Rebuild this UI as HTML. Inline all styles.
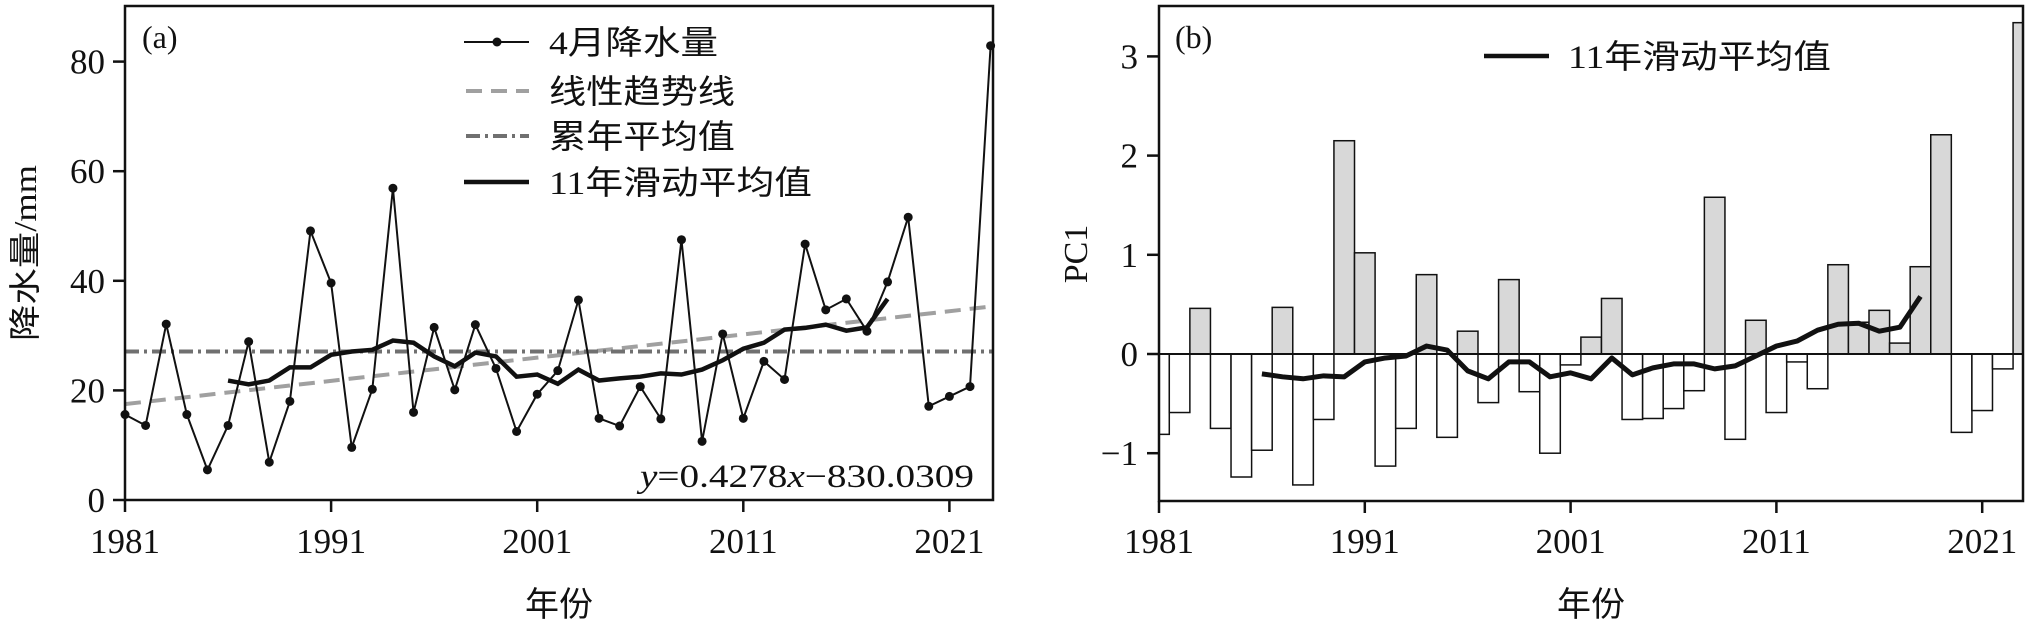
<!DOCTYPE html>
<html><head><meta charset="utf-8"><style>
html,body{margin:0;padding:0;background:#fff;}
svg{display:block;}
text{font-family:"Liberation Serif","Noto Serif CJK SC",serif;fill:#111;}
.cjk{font-family:"Liberation Serif","Noto Sans CJK SC",sans-serif;}
</style></head><body>
<svg id="s" width="2026" height="624" xmlns="http://www.w3.org/2000/svg"></svg>
<script>
const s=document.getElementById('s');let h='';
const ax=y=>125+(y-1981)*20.61, ay=v=>500-v*5.48;
const A=[15.6,13.6,32.1,15.6,5.5,13.6,28.9,6.9,18,49.1,39.6,9.6,20.2,56.9,16,31.5,20.1,32,24,12.5,19.3,23.6,36.5,14.9,13.5,20.7,14.8,47.5,10.7,30.3,14.9,25.3,22,46.7,34.7,36.7,30.8,39.8,51.6,17.1,18.9,20.7,82.9];
const MA=[21.8,21.1,21.8,24.2,24.2,26.5,27.1,27.4,29.1,28.7,26.2,24.4,26.9,26.2,22.5,22.9,21.2,23.8,21.8,22.2,22.5,23.1,22.9,23.8,25.5,27.6,28.7,31.1,31.4,32,30.9,31.5,36.7];
const MB=[-0.2,-0.23,-0.25,-0.22,-0.23,-0.08,-0.04,-0.02,0.08,0.04,-0.17,-0.25,-0.08,-0.08,-0.23,-0.19,-0.25,-0.04,-0.21,-0.14,-0.1,-0.1,-0.15,-0.12,-0.02,0.08,0.13,0.24,0.30,0.31,0.23,0.27,0.58];
const B=[-0.81,-0.59,0.46,-0.75,-1.24,-0.97,0.47,-1.32,-0.66,2.15,1.02,-1.13,-0.75,0.80,-0.84,0.23,-0.49,0.75,-0.38,-1.0,-0.11,0.17,0.56,-0.66,-0.65,-0.55,-0.37,1.58,-0.86,0.34,-0.59,-0.08,-0.35,0.90,0.32,0.44,0.11,0.88,2.21,-0.79,-0.57,-0.15,3.34];
h+=`<line x1="${ax(1981)}" y1="${ay(17.5)}" x2="${ax(2023)}" y2="${ay(35.3)}" stroke="#a0a0a0" stroke-width="4" stroke-dasharray="16,9"/>`;
h+=`<line x1="125" y1="${ay(27.1)}" x2="993" y2="${ay(27.1)}" stroke="#707070" stroke-width="4" stroke-dasharray="14,5,3,5"/>`;
h+=`<polyline fill="none" stroke="#111" stroke-width="2" points="${A.map((v,i)=>ax(1981+i)+','+ay(v)).join(' ')}"/>`;
A.forEach((v,i)=>h+=`<circle cx="${ax(1981+i)}" cy="${ay(v)}" r="4.5" fill="#111"/>`);
h+=`<polyline fill="none" stroke="#111" stroke-width="4.5" points="${MA.map((v,i)=>ax(1986+i)+','+ay(v)).join(' ')}"/>`;
h+=`<rect x="125" y="6" width="868" height="494" fill="none" stroke="#111" stroke-width="2.5"/>`;
[0,20,40,60,80].forEach(v=>{h+=`<line x1="113" y1="${ay(v)}" x2="125" y2="${ay(v)}" stroke="#111" stroke-width="2.5"/><text x="105" y="${ay(v)+12}" font-size="35" text-anchor="end">${v}</text>`;});
[1981,1991,2001,2011,2021].forEach(y=>{h+=`<line x1="${ax(y)}" y1="500" x2="${ax(y)}" y2="512" stroke="#111" stroke-width="2.5"/><text x="${ax(y)}" y="553" font-size="35" text-anchor="middle">${y}</text>`;});
h+=`<text x="142" y="48" font-size="32">(a)</text>`;
h+=`<text class="cjk" transform="translate(36,253) rotate(-90)" font-size="32" text-anchor="middle" textLength="176" lengthAdjust="spacingAndGlyphs">降水量/mm</text>`;
h+=`<text class="cjk" x="559" y="616" font-size="34" text-anchor="middle">年份</text>`;
h+=`<text x="640" y="487" font-size="33" textLength="334" lengthAdjust="spacingAndGlyphs"><tspan font-style="italic">y</tspan>=0.4278<tspan font-style="italic">x</tspan>−830.0309</text>`;
h+=`<line x1="464" y1="42" x2="529" y2="42" stroke="#111" stroke-width="2"/><circle cx="497" cy="42" r="4.5" fill="#111"/>`;
h+=`<line x1="466" y1="91" x2="529" y2="91" stroke="#a0a0a0" stroke-width="4" stroke-dasharray="16,9"/>`;
h+=`<line x1="466" y1="136" x2="529" y2="136" stroke="#707070" stroke-width="4" stroke-dasharray="14,5,3,5"/>`;
h+=`<line x1="464" y1="182" x2="529" y2="182" stroke="#111" stroke-width="4.5"/>`;
[['4月降水量',42,169],['线性趋势线',91,186],['累年平均值',136,186],['11年滑动平均值',182,263]].forEach(([t,y,w])=>h+=`<text class="cjk" x="549" y="${y+12}" font-size="33" textLength="${w}" lengthAdjust="spacingAndGlyphs">${t}</text>`);
const bx=y=>1159+(y-1981)*20.58, by=v=>354-v*99.2;
h+=`<defs><clipPath id="cb"><rect x="1159" y="6" width="864" height="495"/></clipPath></defs><g clip-path="url(#cb)">`;
B.forEach((v,i)=>{const x=bx(1981+i)-10.29,y0=Math.min(by(v),354),hh=Math.abs(by(v)-354);h+=`<rect x="${x}" y="${y0}" width="20.58" height="${hh}" fill="${v>0?'#d8d8d8':'#fff'}" stroke="#111" stroke-width="1.5"/>`;});
h+=`</g>`;
h+=`<line x1="1159" y1="354" x2="2023" y2="354" stroke="#111" stroke-width="2"/>`;
h+=`<polyline fill="none" stroke="#111" stroke-width="5" stroke-linejoin="round" points="${MB.map((v,i)=>bx(1986+i)+','+by(v)).join(' ')}"/>`;
h+=`<rect x="1159" y="6" width="864" height="495" fill="none" stroke="#111" stroke-width="2.5"/>`;
[-1,0,1,2,3].forEach(v=>{h+=`<line x1="1147" y1="${by(v)}" x2="1159" y2="${by(v)}" stroke="#111" stroke-width="2.5"/><text x="1138" y="${by(v)+12}" font-size="35" text-anchor="end">${v<0?'−1':v}</text>`;});
[1981,1991,2001,2011,2021].forEach(y=>{h+=`<line x1="${bx(y)}" y1="501" x2="${bx(y)}" y2="513" stroke="#111" stroke-width="2.5"/><text x="${bx(y)}" y="553" font-size="35" text-anchor="middle">${y}</text>`;});
h+=`<text x="1175" y="48" font-size="32">(b)</text>`;
h+=`<text transform="translate(1087,254) rotate(-90)" font-size="34" text-anchor="middle">PC1</text>`;
h+=`<text class="cjk" x="1591" y="616" font-size="34" text-anchor="middle">年份</text>`;
h+=`<line x1="1484" y1="56" x2="1549" y2="56" stroke="#111" stroke-width="4.5"/><text class="cjk" x="1568" y="68" font-size="33" textLength="263" lengthAdjust="spacingAndGlyphs">11年滑动平均值</text>`;
s.innerHTML=h;
</script>
</body></html>
